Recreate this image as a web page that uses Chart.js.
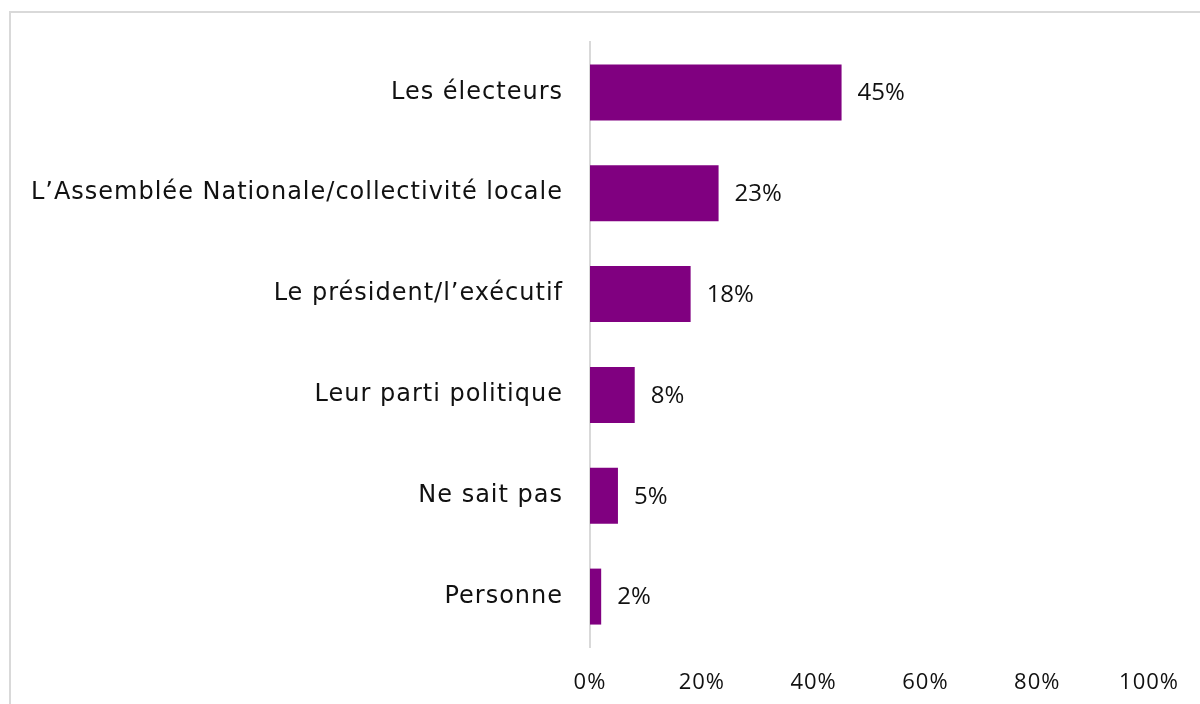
<!DOCTYPE html>
<html>
<head>
<meta charset="utf-8">
<script src="https://cdn.jsdelivr.net/npm/chart.js@4"></script>
<style>
  html, body { margin: 0; padding: 0; background: #fff; }
  #wrap { position: relative; width: 1200px; height: 704px; overflow: hidden; }
  #frame {
    position: absolute; left: 9px; top: 11px; width: 1300px; height: 800px;
    border-left: 2px solid #d9d9d9; border-top: 2px solid #d9d9d9;
  }
  canvas { position: absolute; left: 0; top: 0; }
</style>
</head>
<body>
<div id="wrap">
  <div id="frame"></div>
  <canvas id="myChart" width="1200" height="704"></canvas>
</div>
<script>
const categories = [
  "Les électeurs",
  "L\u2019Assemblée Nationale/collectivité locale",
  "Le président/l\u2019exécutif",
  "Leur parti politique",
  "Ne sait pas",
  "Personne",
];
const values = [45, 23, 18, 8, 5, 2];
const tickValues = [0, 20, 40, 60, 80, 100];

const labelFont = "'DejaVu Sans', sans-serif";
const numberFont = "'Open Sans', sans-serif";
const textColor = "#111";

// wider spacing to get closer to the original geometric face
const spacing = {
  id: "spacing",
  beforeDraw(chart) {
    chart.ctx.letterSpacing = "1px";
  },
};

// value labels at the end of each bar
const barLabels = {
  id: "barLabels",
  afterDatasetsDraw(chart) {
    const ctx = chart.ctx;
    const meta = chart.getDatasetMeta(0);
    ctx.save();
    ctx.letterSpacing = "0px";
    ctx.font = "24px " + numberFont;
    ctx.fillStyle = textColor;
    ctx.textAlign = "left";
    ctx.textBaseline = "middle";
    meta.data.forEach((bar, i) => {
      ctx.fillText(values[i] + "%", bar.x + 16, bar.y + 1);
    });
    ctx.restore();
  },
};

const myChart = document.getElementById("myChart");

new Chart(myChart, {
  type: "bar",
  data: {
    labels: categories,
    datasets: [
      {
        data: values,
        backgroundColor: "#800080",
        borderWidth: 0,
        categoryPercentage: 1,
        barPercentage: 0.555,
      },
    ],
  },
  options: {
    indexAxis: "y",
    responsive: false,
    animation: false,
    layout: { padding: { top: 42, right: 48, bottom: 0, left: 0 } },
    plugins: {
      legend: { display: false },
      tooltip: { enabled: false },
    },
    scales: {
      x: {
        min: 0,
        max: 100,
        afterBuildTicks: (axis) => {
          axis.ticks = tickValues.map((v) => ({ value: v }));
        },
        afterFit: (axis) => {
          axis.height = 57;
        },
        grid: { display: false, drawTicks: false },
        border: { display: false },
        ticks: {
          padding: 23,
          maxRotation: 0,
          color: textColor,
          font: { family: numberFont, size: 22 },
          callback: (v) => v + "%",
        },
      },
      y: {
        afterFit: (axis) => {
          axis.width = 590;
        },
        grid: { display: false, drawTicks: false },
        border: { display: true, color: "#d9d9d9", width: 2 },
        ticks: {
          padding: 27,
          color: textColor,
          font: { family: labelFont, size: 24 },
        },
      },
    },
  },
  plugins: [spacing, barLabels],
});
</script>
</body>
</html>
